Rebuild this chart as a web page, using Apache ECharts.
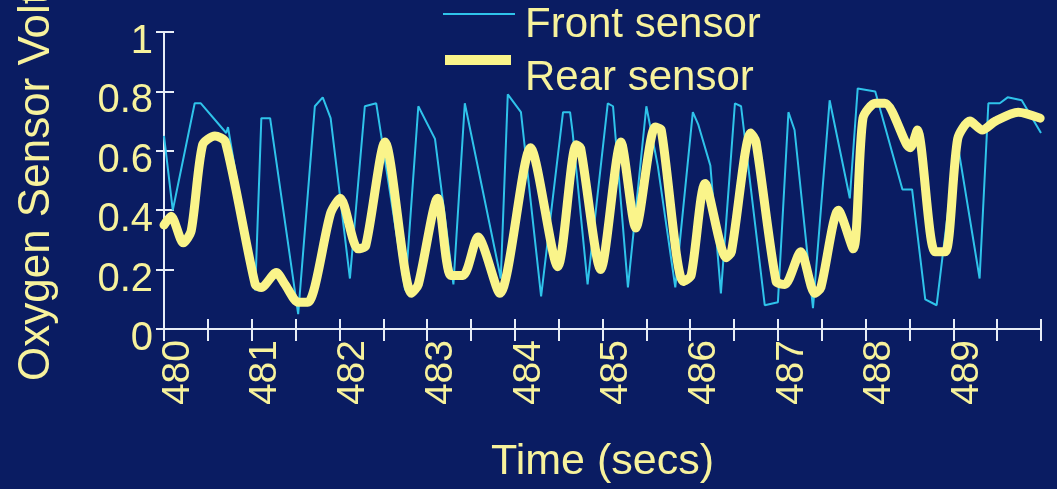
<!DOCTYPE html>
<html>
<head>
<meta charset="utf-8">
<script src="https://cdn.jsdelivr.net/npm/echarts@6/dist/echarts.min.js"></script>
<style>
html,body{margin:0;padding:0;background:#0a1c62;}
#chart{width:1057px;height:489px;}
</style>
</head>
<body>
<div id="chart"></div>
<script>
// Time (secs), voltage pairs
const frontTime = [480.0,480.10,480.35,480.42,480.71,480.73,481.04,481.11,481.21,481.53,481.72,481.81,481.90,482.12,482.29,482.42,482.75,482.90,483.09,483.30,483.43,483.84,483.92,484.07,484.30,484.55,484.63,484.66,484.83,485.06,485.12,485.29,485.50,485.63,485.83,486.03,486.09,486.23,486.35,486.51,486.58,486.85,487.00,487.12,487.19,487.40,487.59,487.82,487.91,488.11,488.42,488.53,488.68,488.81,489.04,489.30,489.40,489.53,489.62,489.78,490.0];
const frontVolts = [0.65,0.40,0.76,0.76,0.66,0.68,0.13,0.71,0.71,0.05,0.75,0.78,0.71,0.17,0.75,0.76,0.13,0.75,0.64,0.15,0.76,0.17,0.79,0.73,0.11,0.73,0.73,0.66,0.15,0.76,0.75,0.14,0.75,0.55,0.14,0.73,0.69,0.55,0.12,0.76,0.75,0.08,0.09,0.73,0.67,0.07,0.77,0.44,0.81,0.80,0.47,0.47,0.10,0.08,0.64,0.17,0.76,0.76,0.78,0.77,0.66];

const rearTime = [480.0,480.08,480.22,480.31,480.44,480.58,480.70,481.04,481.11,481.28,481.38,481.53,481.64,481.90,482.01,482.21,482.30,482.52,482.82,482.90,483.12,483.27,483.41,483.58,483.83,484.18,484.49,484.70,484.75,484.98,485.21,485.38,485.60,485.67,485.92,486.01,486.17,486.41,486.47,486.69,486.75,486.98,487.08,487.26,487.42,487.49,487.69,487.86,487.97,488.11,488.22,488.47,488.51,488.59,488.79,488.91,489.05,489.19,489.33,489.48,489.74,489.99];
const rearVolts = [0.35,0.38,0.29,0.33,0.62,0.65,0.63,0.15,0.14,0.19,0.15,0.09,0.09,0.39,0.44,0.27,0.28,0.63,0.12,0.15,0.44,0.18,0.18,0.31,0.12,0.61,0.21,0.62,0.61,0.20,0.63,0.34,0.68,0.67,0.16,0.18,0.49,0.24,0.26,0.66,0.63,0.16,0.15,0.26,0.12,0.14,0.40,0.27,0.71,0.76,0.76,0.62,0.61,0.67,0.26,0.26,0.64,0.70,0.67,0.70,0.73,0.71];

const seriesNames = ['Front sensor', 'Rear sensor'];
const xAxisTitle = 'Time (secs)';
const yAxisTitle = 'Oxygen Sensor Voltage';

const FONT = '"Liberation Sans", Arial, sans-serif';
const TXT = '#f7f29c';
const AXIS = '#e8edf6';
const CYAN = '#2fc3ea';
const YEL = '#faf48a';

const pair = (t, v) => t.map((x, i) => [x, v[i]]);

const chart = echarts.init(document.getElementById('chart'));
const xBase = {type: 'value', min: 480, max: 490, interval: 0.5, gridIndex: 0, position: 'bottom', splitLine: {show: false}};
// spacer fragment sets the line height; label fragment sits at the bottom of the line
const legendText = (lineH, padLeft) => ({
  color: TXT, fontSize: 42, fontFamily: FONT,
  rich: {
    s: {fontSize: 1, lineHeight: lineH, width: padLeft},
    t: {color: TXT, fontSize: 42, fontFamily: FONT, lineHeight: 42, verticalAlign: 'bottom'}
  }
});
chart.setOption({
  backgroundColor: '#0a1c62',
  animation: false,
  grid: {left: 164, right: 16, top: 32, bottom: 158},
  legend: [
    {data: [seriesNames[0]], left: 443, top: 4, padding: 0, icon: 'rect', itemWidth: 72, itemHeight: 2,
     formatter: n => '{s| }{t|' + n + '}', textStyle: legendText(64, 5), itemStyle: {borderWidth: 0}},
    {data: [seriesNames[1]], left: 445, top: 55, padding: 0, icon: 'rect', itemWidth: 66, itemHeight: 10,
     formatter: n => '{s| }{t|' + n + '}', textStyle: legendText(78, 9), itemStyle: {borderWidth: 0}}
  ],
  xAxis: [
    Object.assign({}, xBase, {
      name: xAxisTitle, nameLocation: 'middle', nameGap: 112,
      nameTextStyle: {color: TXT, fontSize: 43, fontFamily: FONT},
      axisLine: {lineStyle: {color: AXIS, width: 2}},
      axisTick: {show: true, inside: false, length: 12, lineStyle: {color: AXIS, width: 2}},
      axisLabel: {
        rotate: 90, margin: 11, color: TXT, fontSize: 39, fontFamily: FONT,
        verticalAlign: 'top', lineHeight: 28,
        formatter: v => (Math.abs(v - Math.round(v)) < 1e-6 && v < 490) ? String(Math.round(v)) : ''
      }
    }),
    Object.assign({}, xBase, {
      axisLine: {show: false},
      axisTick: {show: true, inside: true, length: 10, lineStyle: {color: AXIS, width: 2}},
      axisLabel: {show: false}
    })
  ],
  yAxis: [
    {type: 'value', min: 0, max: 1, interval: 0.2, splitLine: {show: false},
     axisLine: {show: true, lineStyle: {color: AXIS, width: 2}},
     axisTick: {show: true, inside: true, length: 10, lineStyle: {color: AXIS, width: 2}},
     axisLabel: {color: TXT, fontSize: 40, fontFamily: FONT, margin: 11, verticalAlign: 'top', lineHeight: 20,
       formatter: v => String(Math.round(v * 10) / 10)}},
    {type: 'value', min: 0, max: 1, interval: 0.2, position: 'left', splitLine: {show: false},
     axisLine: {show: false},
     axisTick: {show: true, inside: false, length: 8, lineStyle: {color: AXIS, width: 2}},
     axisLabel: {show: false}}
  ],
  graphic: [{
    type: 'text', x: 37, y: 381, rotation: Math.PI / 2,
    style: {text: yAxisTitle, fill: TXT, font: '44px ' + FONT, align: 'left', verticalAlign: 'middle'}
  }],
  series: [
    {name: seriesNames[0], type: 'line', data: pair(frontTime, frontVolts), showSymbol: false, symbol: 'none',
     lineStyle: {color: CYAN, width: 2}, itemStyle: {color: CYAN}, z: 2},
    {name: seriesNames[1], type: 'line', data: pair(rearTime, rearVolts), showSymbol: false, symbol: 'none', smooth: 0.25,
     lineStyle: {color: YEL, width: 9, cap: 'round', join: 'round'}, itemStyle: {color: YEL}, z: 3}
  ]
});
</script>
</body>
</html>
